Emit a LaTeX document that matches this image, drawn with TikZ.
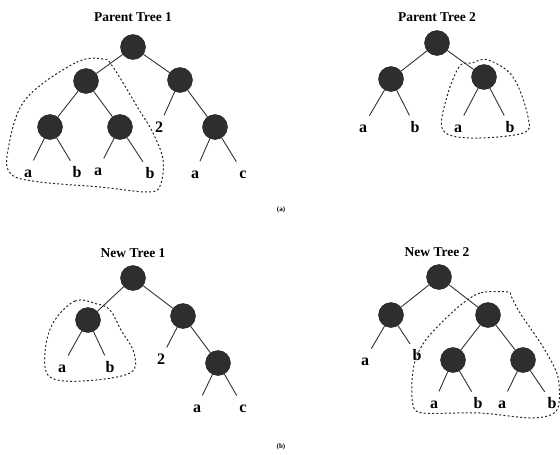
\documentclass[tikz,border=0pt]{standalone}
\usepackage{fontspec}
\setmainfont{Liberation Serif}
\begin{document}
\begin{tikzpicture}[x=1pt,y=-1pt,
  ball/.style={circle,minimum size=25pt,inner sep=0pt,draw=black!90,fill=black!82},
  leaf/.style={font=\bfseries\fontsize{16}{16}\selectfont,inner sep=0pt,text height=11pt,text depth=0pt,anchor=base},
  ttl/.style={font=\bfseries\fontsize{13.5}{14}\selectfont},
  captext/.style={font=\bfseries\fontsize{7}{8}\selectfont},
  edge/.style={line width=0.9pt,black!80},
  ledge/.style={edge,shorten >=6pt},
  blob/.style={black!85,line width=1pt,dash pattern=on 2pt off 2.2pt}]
\useasboundingbox (0,0) rectangle (560,455);
% ---------- Parent Tree 1
\node[ttl] (t1) at (133,17) {Parent Tree 1};
\node[ball] (p1r) at (133,47) {};
\node[ball] (p1l) at (86,81) {};
\node[ball] (p1rr) at (180,80) {};
\node[ball] (p1ll) at (50,127) {};
\node[ball] (p1lr) at (120,127) {};
\node[ball] (p1rrr) at (215,127) {};
\node[leaf] (p1two) at (159,132) {2};
\node[leaf] (p1a1) at (28,177) {a};
\node[leaf] (p1b1) at (77,177) {b};
\node[leaf] (p1a2) at (98,175) {a};
\node[leaf] (p1b2) at (150,178) {b};
\node[leaf] (p1a3) at (195,178) {a};
\node[leaf] (p1c) at (243,178) {c};
\draw[edge] (p1r) -- (p1l); \draw[edge] (p1r) -- (p1rr);
\draw[edge] (p1l) -- (p1ll); \draw[edge] (p1l) -- (p1lr);
\draw[edge] (p1rr) -- (p1rrr); \draw[ledge] (p1rr) -- (p1two);
\draw[ledge] (p1ll) -- (p1a1); \draw[ledge] (p1ll) -- (p1b1);
\draw[ledge] (p1lr) -- (p1a2); \draw[ledge] (p1lr) -- (p1b2);
\draw[ledge] (p1rrr) -- (p1a3); \draw[ledge] (p1rrr) -- (p1c);
\draw[blob] plot[smooth cycle,tension=0.6] coordinates {(103,59) (75,63) (25,100) (8,150) (11,174) (40,182) (100,187) (147,192) (160,186) (163,160) (153,133) (138,108) (113,67)};
% ---------- Parent Tree 2
\node[ttl] (t2) at (437,17) {Parent Tree 2};
\node[ball] (p2r) at (437,43) {};
\node[ball] (p2l) at (391,79) {};
\node[ball] (p2rr) at (484,77) {};
\node[leaf] (p2a1) at (363,132) {a};
\node[leaf] (p2b1) at (415,132) {b};
\node[leaf] (p2a2) at (458,132) {a};
\node[leaf] (p2b2) at (510,132) {b};
\draw[edge] (p2r) -- (p2l); \draw[edge] (p2r) -- (p2rr);
\draw[ledge] (p2l) -- (p2a1); \draw[ledge] (p2l) -- (p2b1);
\draw[ledge] (p2rr) -- (p2a2); \draw[ledge] (p2rr) -- (p2b2);
\draw[blob] plot[smooth cycle,tension=0.6] coordinates {(472,63) (459,67) (446,100) (443,130) (470,138) (523,133) (528,117) (513,77) (488,60)};
\node[captext] (capa) at (281,210) {(a)};
% ---------- New Tree 1
\node[ttl] (t3) at (133,253) {New Tree 1};
\node[ball] (n1r) at (133,278) {};
\node[ball] (n1l) at (88,320) {};
\node[ball] (n1rr) at (183,316) {};
\node[ball] (n1rrr) at (218,363) {};
\node[leaf] (n1two) at (161,364) {2};
\node[leaf] (n1a1) at (62,372) {a};
\node[leaf] (n1b1) at (110,372) {b};
\node[leaf] (n1a2) at (197,412) {a};
\node[leaf] (n1c) at (243,412) {c};
\draw[edge] (n1r) -- (n1l); \draw[edge] (n1r) -- (n1rr);
\draw[ledge] (n1rr) -- (n1two); \draw[edge] (n1rr) -- (n1rrr);
\draw[ledge] (n1l) -- (n1a1); \draw[ledge] (n1l) -- (n1b1);
\draw[ledge] (n1rrr) -- (n1a2); \draw[ledge] (n1rrr) -- (n1c);
\draw[blob] plot[smooth cycle,tension=0.6] coordinates {(97,304) (75,301) (53,323) (45,353) (50,377) (83,381) (130,373) (134,353) (121,330) (110,310)};
% ---------- New Tree 2
\node[ttl] (t4) at (437,252) {New Tree 2};
\node[ball] (n2r) at (439,277) {};
\node[ball] (n2l) at (391,315) {};
\node[ball] (n2rr) at (488,315) {};
\node[ball] (n2rl2) at (453,360) {};
\node[ball] (n2rr2) at (523,360) {};
\node[leaf] (n2a1) at (365,365) {a};
\node[leaf] (n2b1) at (417,360) {b};
\node[leaf] (n2a2) at (434,408) {a};
\node[leaf] (n2b2) at (478,408) {b};
\node[leaf] (n2a3) at (502,408) {a};
\node[leaf] (n2b3) at (552,408) {b};
\draw[edge] (n2r) -- (n2l); \draw[edge] (n2r) -- (n2rr);
\draw[ledge] (n2l) -- (n2a1); \draw[ledge] (n2l) -- (n2b1);
\draw[edge] (n2rr) -- (n2rl2); \draw[edge] (n2rr) -- (n2rr2);
\draw[ledge] (n2rl2) -- (n2a2); \draw[ledge] (n2rl2) -- (n2b2);
\draw[ledge] (n2rr2) -- (n2a3); \draw[ledge] (n2rr2) -- (n2b3);
\draw[blob] plot[smooth cycle,tension=0.5] coordinates {(508,292) (480,293) (457,308) (428,337) (416,358) (412,380) (413,405) (423,413) (480,413) (533,418) (557,410) (558,377) (543,347) (520,313) (511,296)};
\node[captext] (capb) at (281,447) {(b)};
\end{tikzpicture}
\end{document}
